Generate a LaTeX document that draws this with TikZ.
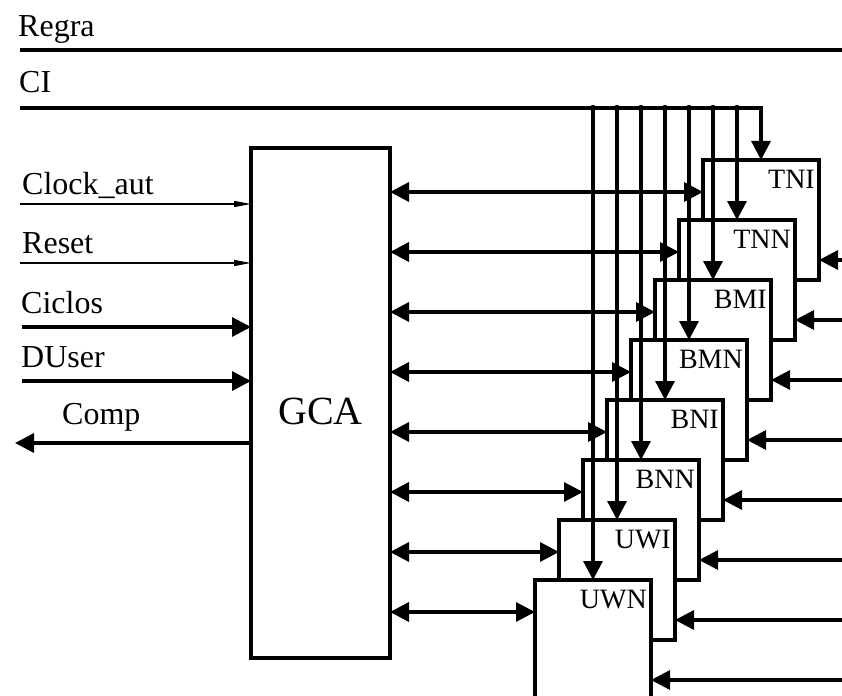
\documentclass[tikz,border=0pt]{standalone}
\usepackage{fontspec}
\setmainfont{Liberation Serif}
\usetikzlibrary{arrows.meta,positioning}
\tikzset{
  wire/.style={line width=3.3pt},
  sig/.style={wire,-{Triangle[length=19pt,width=19pt]}},
  bisig/.style={wire,{Triangle[length=19pt,width=19pt]}-{Triangle[length=19pt,width=19pt]}},
  thinsig/.style={line width=1.4pt,-{Triangle[length=17pt,width=6pt]}},
  tag/.style={anchor=base west,inner sep=0pt,font=\fontsize{32}{38}\selectfont},
  unit/.style={draw,line width=3.3pt,fill=white,minimum width=116pt,minimum height=120pt,
    anchor=north west,inner sep=0pt,outer sep=0pt},
  unitlbl/.style={anchor=north east,inner sep=0pt,xshift=-4pt,yshift=-10pt,
    font=\fontsize{28}{32}\selectfont},
  core/.style={draw,line width=3.3pt,minimum width=139pt,minimum height=510pt,anchor=north west,
    inner sep=0pt,outer sep=0pt,font=\fontsize{40}{46}\selectfont,text height=42pt,text depth=0pt}
}
\begin{document}
\begin{tikzpicture}[x=1pt,y=-1pt]
  \useasboundingbox (0,0) rectangle (842,695);
  % buses on top
  \node[tag] (regra) at (18,37) {Regra};
  \node[tag] (ci) at (19,93) {CI};
  \coordinate (rgin) at (20,50);
  \coordinate (rgout) at (842,50);
  \coordinate (ciin) at (20,108);
  \coordinate (redge) at (842,0);
  \draw[wire] (rgin) -- (rgout);

  % control block
  \node[core] (gca) at (251,148) {GCA};
  \node[tag] (clk) at (22,194) {Clock\_aut};
  \node[tag] (rst) at (22,253) {Reset};
  \node[tag] (cyc) at (21,313) {Ciclos};
  \node[tag] (dus) at (21,367) {DUser};
  \node[tag] (cmp) at (62,424) {Comp};
  \coordinate (clkin) at (20,204);
  \coordinate (rstin) at (20,263);
  \coordinate (cycin) at (22,327);
  \coordinate (dusin) at (22,381);
  \coordinate (cmpout) at (15,443);
  \draw[thinsig] (clkin) -- (clkin -| gca.west);
  \draw[thinsig] (rstin) -- (rstin -| gca.west);
  \draw[sig] (cycin) -- (cycin -| gca.west);
  \draw[sig] (dusin) -- (dusin -| gca.west);
  \draw[sig] (cmpout -| gca.west) -- (cmpout);

  % stacked units
  \node[unit,label={[unitlbl]north east:TNI}] (tni) at (703,160) {};
  \node[unit,label={[unitlbl]north east:TNN}] (tnn) at ([xshift=-24pt,yshift=-60pt]tni.north west) {};
  \node[unit,label={[unitlbl]north east:BMI}] (bmi) at ([xshift=-24pt,yshift=-60pt]tnn.north west) {};
  \node[unit,label={[unitlbl]north east:BMN}] (bmn) at ([xshift=-24pt,yshift=-60pt]bmi.north west) {};
  \node[unit,label={[unitlbl]north east:BNI}] (bni) at ([xshift=-24pt,yshift=-60pt]bmn.north west) {};
  \node[unit,label={[unitlbl]north east:BNN}] (bnn) at ([xshift=-24pt,yshift=-60pt]bni.north west) {};
  \node[unit,label={[unitlbl]north east:UWI}] (uwi) at ([xshift=-24pt,yshift=-60pt]bnn.north west) {};
  \node[unit,label={[unitlbl]north east:UWN}] (uwn) at ([xshift=-24pt,yshift=-60pt]uwi.north west) {};

  % CI taps
  \draw[sig] (ciin) -- (tni.north |- ciin) -- (tni.north);
  \draw[sig] (tnn.north |- ciin) -- (tnn.north);
  \draw[sig] (bmi.north |- ciin) -- (bmi.north);
  \draw[sig] (bmn.north |- ciin) -- (bmn.north);
  \draw[sig] (bni.north |- ciin) -- (bni.north);
  \draw[sig] (bnn.north |- ciin) -- (bnn.north);
  \draw[sig] (uwi.north |- ciin) -- (uwi.north);
  \draw[sig] (uwn.north |- ciin) -- (uwn.north);
  \fill (tnn.north |- ciin) circle (3.2pt);
  \fill (bmi.north |- ciin) circle (3.2pt);
  \fill (bmn.north |- ciin) circle (3.2pt);
  \fill (bni.north |- ciin) circle (3.2pt);
  \fill (bnn.north |- ciin) circle (3.2pt);
  \fill (uwi.north |- ciin) circle (3.2pt);
  \fill (uwn.north |- ciin) circle (3.2pt);

  % GCA <-> units
  \draw[bisig] ([yshift=-32pt]tni.north west -| gca.east) -- ([yshift=-32pt]tni.north west);
  \draw[bisig] ([yshift=-32pt]tnn.north west -| gca.east) -- ([yshift=-32pt]tnn.north west);
  \draw[bisig] ([yshift=-32pt]bmi.north west -| gca.east) -- ([yshift=-32pt]bmi.north west);
  \draw[bisig] ([yshift=-32pt]bmn.north west -| gca.east) -- ([yshift=-32pt]bmn.north west);
  \draw[bisig] ([yshift=-32pt]bni.north west -| gca.east) -- ([yshift=-32pt]bni.north west);
  \draw[bisig] ([yshift=-32pt]bnn.north west -| gca.east) -- ([yshift=-32pt]bnn.north west);
  \draw[bisig] ([yshift=-32pt]uwi.north west -| gca.east) -- ([yshift=-32pt]uwi.north west);
  \draw[bisig] ([yshift=-32pt]uwn.north west -| gca.east) -- ([yshift=-32pt]uwn.north west);

  % inputs from the right
  \draw[sig] ([yshift=-100pt]tni.north east -| redge) -- ([yshift=-100pt]tni.north east);
  \draw[sig] ([yshift=-100pt]tnn.north east -| redge) -- ([yshift=-100pt]tnn.north east);
  \draw[sig] ([yshift=-100pt]bmi.north east -| redge) -- ([yshift=-100pt]bmi.north east);
  \draw[sig] ([yshift=-100pt]bmn.north east -| redge) -- ([yshift=-100pt]bmn.north east);
  \draw[sig] ([yshift=-100pt]bni.north east -| redge) -- ([yshift=-100pt]bni.north east);
  \draw[sig] ([yshift=-100pt]bnn.north east -| redge) -- ([yshift=-100pt]bnn.north east);
  \draw[sig] ([yshift=-100pt]uwi.north east -| redge) -- ([yshift=-100pt]uwi.north east);
  \draw[sig] ([yshift=-100pt]uwn.north east -| redge) -- ([yshift=-100pt]uwn.north east);
\end{tikzpicture}
\end{document}
